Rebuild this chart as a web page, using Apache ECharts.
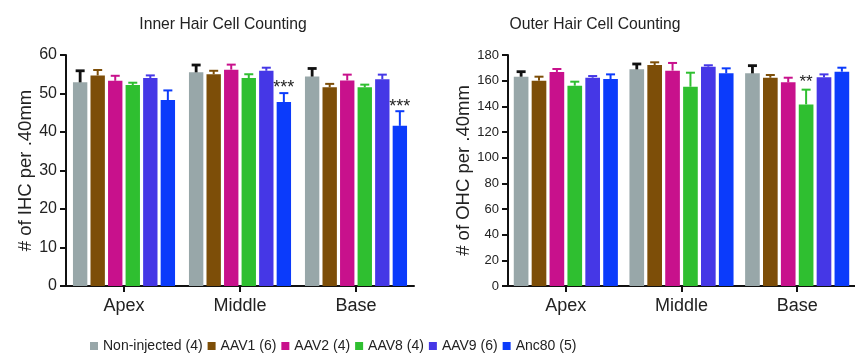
<!DOCTYPE html>
<html><head><meta charset="utf-8">
<script src="https://cdn.jsdelivr.net/npm/echarts@6/dist/echarts.min.js"></script>
<style>html,body{margin:0;padding:0;background:#fff}#c{width:855px;height:362px}</style>
</head><body><div id="c"></div>
<script>
const categories = ['Apex', 'Middle', 'Base'];
const groups = ['Non-injected (4)', 'AAV1 (6)', 'AAV2 (4)', 'AAV8 (4)', 'AAV9 (6)', 'Anc80 (5)'];
const colors = ['#98a7a9', '#7d4e08', '#c8118c', '#2fbf30', '#4537e6', '#0b3bfb'];
const errColors = ['#111111', '#7d4e08', '#c8118c', '#2fbf30', '#4537e6', '#0b3bfb'];

const ihcMean = [
  [52.9, 55.5, 54.4],
  [54.7, 55.0, 51.6],
  [53.3, 56.2, 53.4],
  [52.2, 54.0, 51.6],
  [54.0, 55.9, 53.7],
  [48.3, 47.8, 41.6]
];
const ihcErr = [
  [3.0, 1.9, 2.1],
  [1.4, 0.9, 0.9],
  [1.3, 1.3, 1.5],
  [0.6, 1.0, 0.7],
  [0.7, 0.8, 1.2],
  [2.5, 2.3, 3.8]
];
const ohcMean = [
  [163.1, 168.8, 165.7],
  [160.0, 172.2, 162.3],
  [166.8, 167.8, 158.7],
  [156.1, 155.3, 141.5],
  [162.3, 170.9, 162.6],
  [161.3, 165.7, 167.0]
];
const ohcErr = [
  [3.9, 4.2, 6.0],
  [3.1, 2.1, 2.1],
  [2.3, 6.0, 3.6],
  [3.1, 10.9, 11.5],
  [1.3, 1.1, 2.3],
  [3.6, 3.9, 3.1]
];
// significance marks: [categoryIndex, groupIndex, yValue, text]
const ihcSig = [[1, 5, 52.8, '***'], [2, 5, 47.9, '***']];
const ohcSig = [[2, 3, 162.4, '**']];

const CAT_GAPS = [0.12, 0.10], BAR_GAP = 0.22, N = groups.length;
function barX(api, gi, cat, idx) {
  const band = api.size([1, 0])[0];
  const total = band * (1 - CAT_GAPS[gi]);
  const w = total / (N + (N - 1) * BAR_GAP);
  const c = api.coord([cat, 0])[0];
  return { x: c - total / 2 + idx * w * (1 + BAR_GAP) + w / 2, w: w };
}

const font = 'Liberation Sans, Arial, sans-serif';
const series = [];
[[ihcMean, ihcErr, ihcSig, 18], [ohcMean, ohcErr, ohcSig, 17]].forEach(function (set, gi) {
  const mean = set[0], err = set[1], sig = set[2], sigSize = set[3];
  groups.forEach(function (g, i) {
    series.push({
      type: 'bar', name: g, xAxisIndex: gi, yAxisIndex: gi,
      data: mean[i], barCategoryGap: (CAT_GAPS[gi] * 100) + '%', barGap: (BAR_GAP * 100) + '%',
      itemStyle: { color: colors[i] }, silent: true
    });
  });
  const errData = [];
  groups.forEach(function (g, i) {
    categories.forEach(function (c, k) { errData.push([k, i, mean[i][k], mean[i][k] + err[i][k]]); });
  });
  series.push({
    type: 'custom', xAxisIndex: gi, yAxisIndex: gi, silent: true, z: 3,
    encode: { x: 0, y: 3 },
    data: errData,
    renderItem: function (params, api) {
      const cat = api.value(0), idx = api.value(1);
      const b = barX(api, gi, cat, idx);
      const y0 = api.coord([cat, api.value(2)])[1];
      const y1 = api.coord([cat, api.value(3)])[1];
      const col = errColors[idx];
      const lw = idx === 0 ? 2.8 : 2;
      return { type: 'group', children: [
        { type: 'line', shape: { x1: b.x, y1: y0, x2: b.x, y2: y1 }, style: { stroke: col, lineWidth: lw } },
        { type: 'line', shape: { x1: b.x - 4.5, y1: y1, x2: b.x + 4.5, y2: y1 }, style: { stroke: col, lineWidth: lw } }
      ] };
    }
  });
  series.push({
    type: 'custom', xAxisIndex: gi, yAxisIndex: gi, silent: true, z: 4,
    encode: { x: 0, y: 2 },
    data: sig,
    renderItem: function (params, api) {
      const cat = api.value(0), idx = api.value(1);
      const b = barX(api, gi, cat, idx);
      const y = api.coord([cat, api.value(2)])[1] + sigSize * 0.28;
      return { type: 'text', style: { text: sig[params.dataIndex][3], x: b.x, y: y, align: 'center', verticalAlign: 'middle', fill: '#222', font: sigSize + 'px ' + font } };
    }
  });
});

const axisLine = { show: true, lineStyle: { color: '#111', width: 2 } };
function xAxis(gi) {
  return { type: 'category', gridIndex: gi, data: categories, axisLine: axisLine,
    axisTick: { show: true, alignWithLabel: true, length: 6, lineStyle: { color: '#111', width: 2 } },
    axisLabel: { color: '#222', fontSize: 18, fontFamily: font, margin: 11 } };
}
function yAxis(gi, max, interval, name, labelSize, gap) {
  return { type: 'value', gridIndex: gi, min: 0, max: max, interval: interval,
    name: name, nameLocation: 'middle', nameGap: gap,
    nameTextStyle: { color: '#222', fontSize: 18.5, fontFamily: font },
    axisLine: axisLine, axisTick: { show: true, length: 6, lineStyle: { color: '#111', width: 2 } },
    splitLine: { show: false },
    axisLabel: { color: '#222', fontSize: labelSize, fontFamily: font, margin: 9 } };
}

const chart = echarts.init(document.getElementById('c'), null, { renderer: 'canvas' });
chart.setOption({
  animation: false,
  backgroundColor: '#fff',
  title: [
    { text: 'Inner Hair Cell Counting', left: 218, top: 12, textAlign: 'center', textStyle: { fontSize: 15.7, fontWeight: 'normal', color: '#222', fontFamily: font } },
    { text: 'Outer Hair Cell Counting', left: 590, top: 12, textAlign: 'center', textStyle: { fontSize: 15.7, fontWeight: 'normal', color: '#222', fontFamily: font } }
  ],
  legend: {
    data: groups, left: 85, top: 334, icon: 'rect', itemWidth: 8, itemHeight: 8, itemGap: 5,
    textStyle: { fontSize: 14, color: '#222', fontFamily: font }
  },
  grid: [
    { left: 66, width: 348, top: 55, bottom: 76 },
    { left: 508, width: 353, top: 55, bottom: 76 }
  ],
  xAxis: [xAxis(0), xAxis(1)],
  yAxis: [yAxis(0, 60, 10, '# of IHC per .40mm', 16, 30), yAxis(1, 180, 20, '# of OHC per .40mm', 13, 33)],
  series: series
});
</script></body></html>
